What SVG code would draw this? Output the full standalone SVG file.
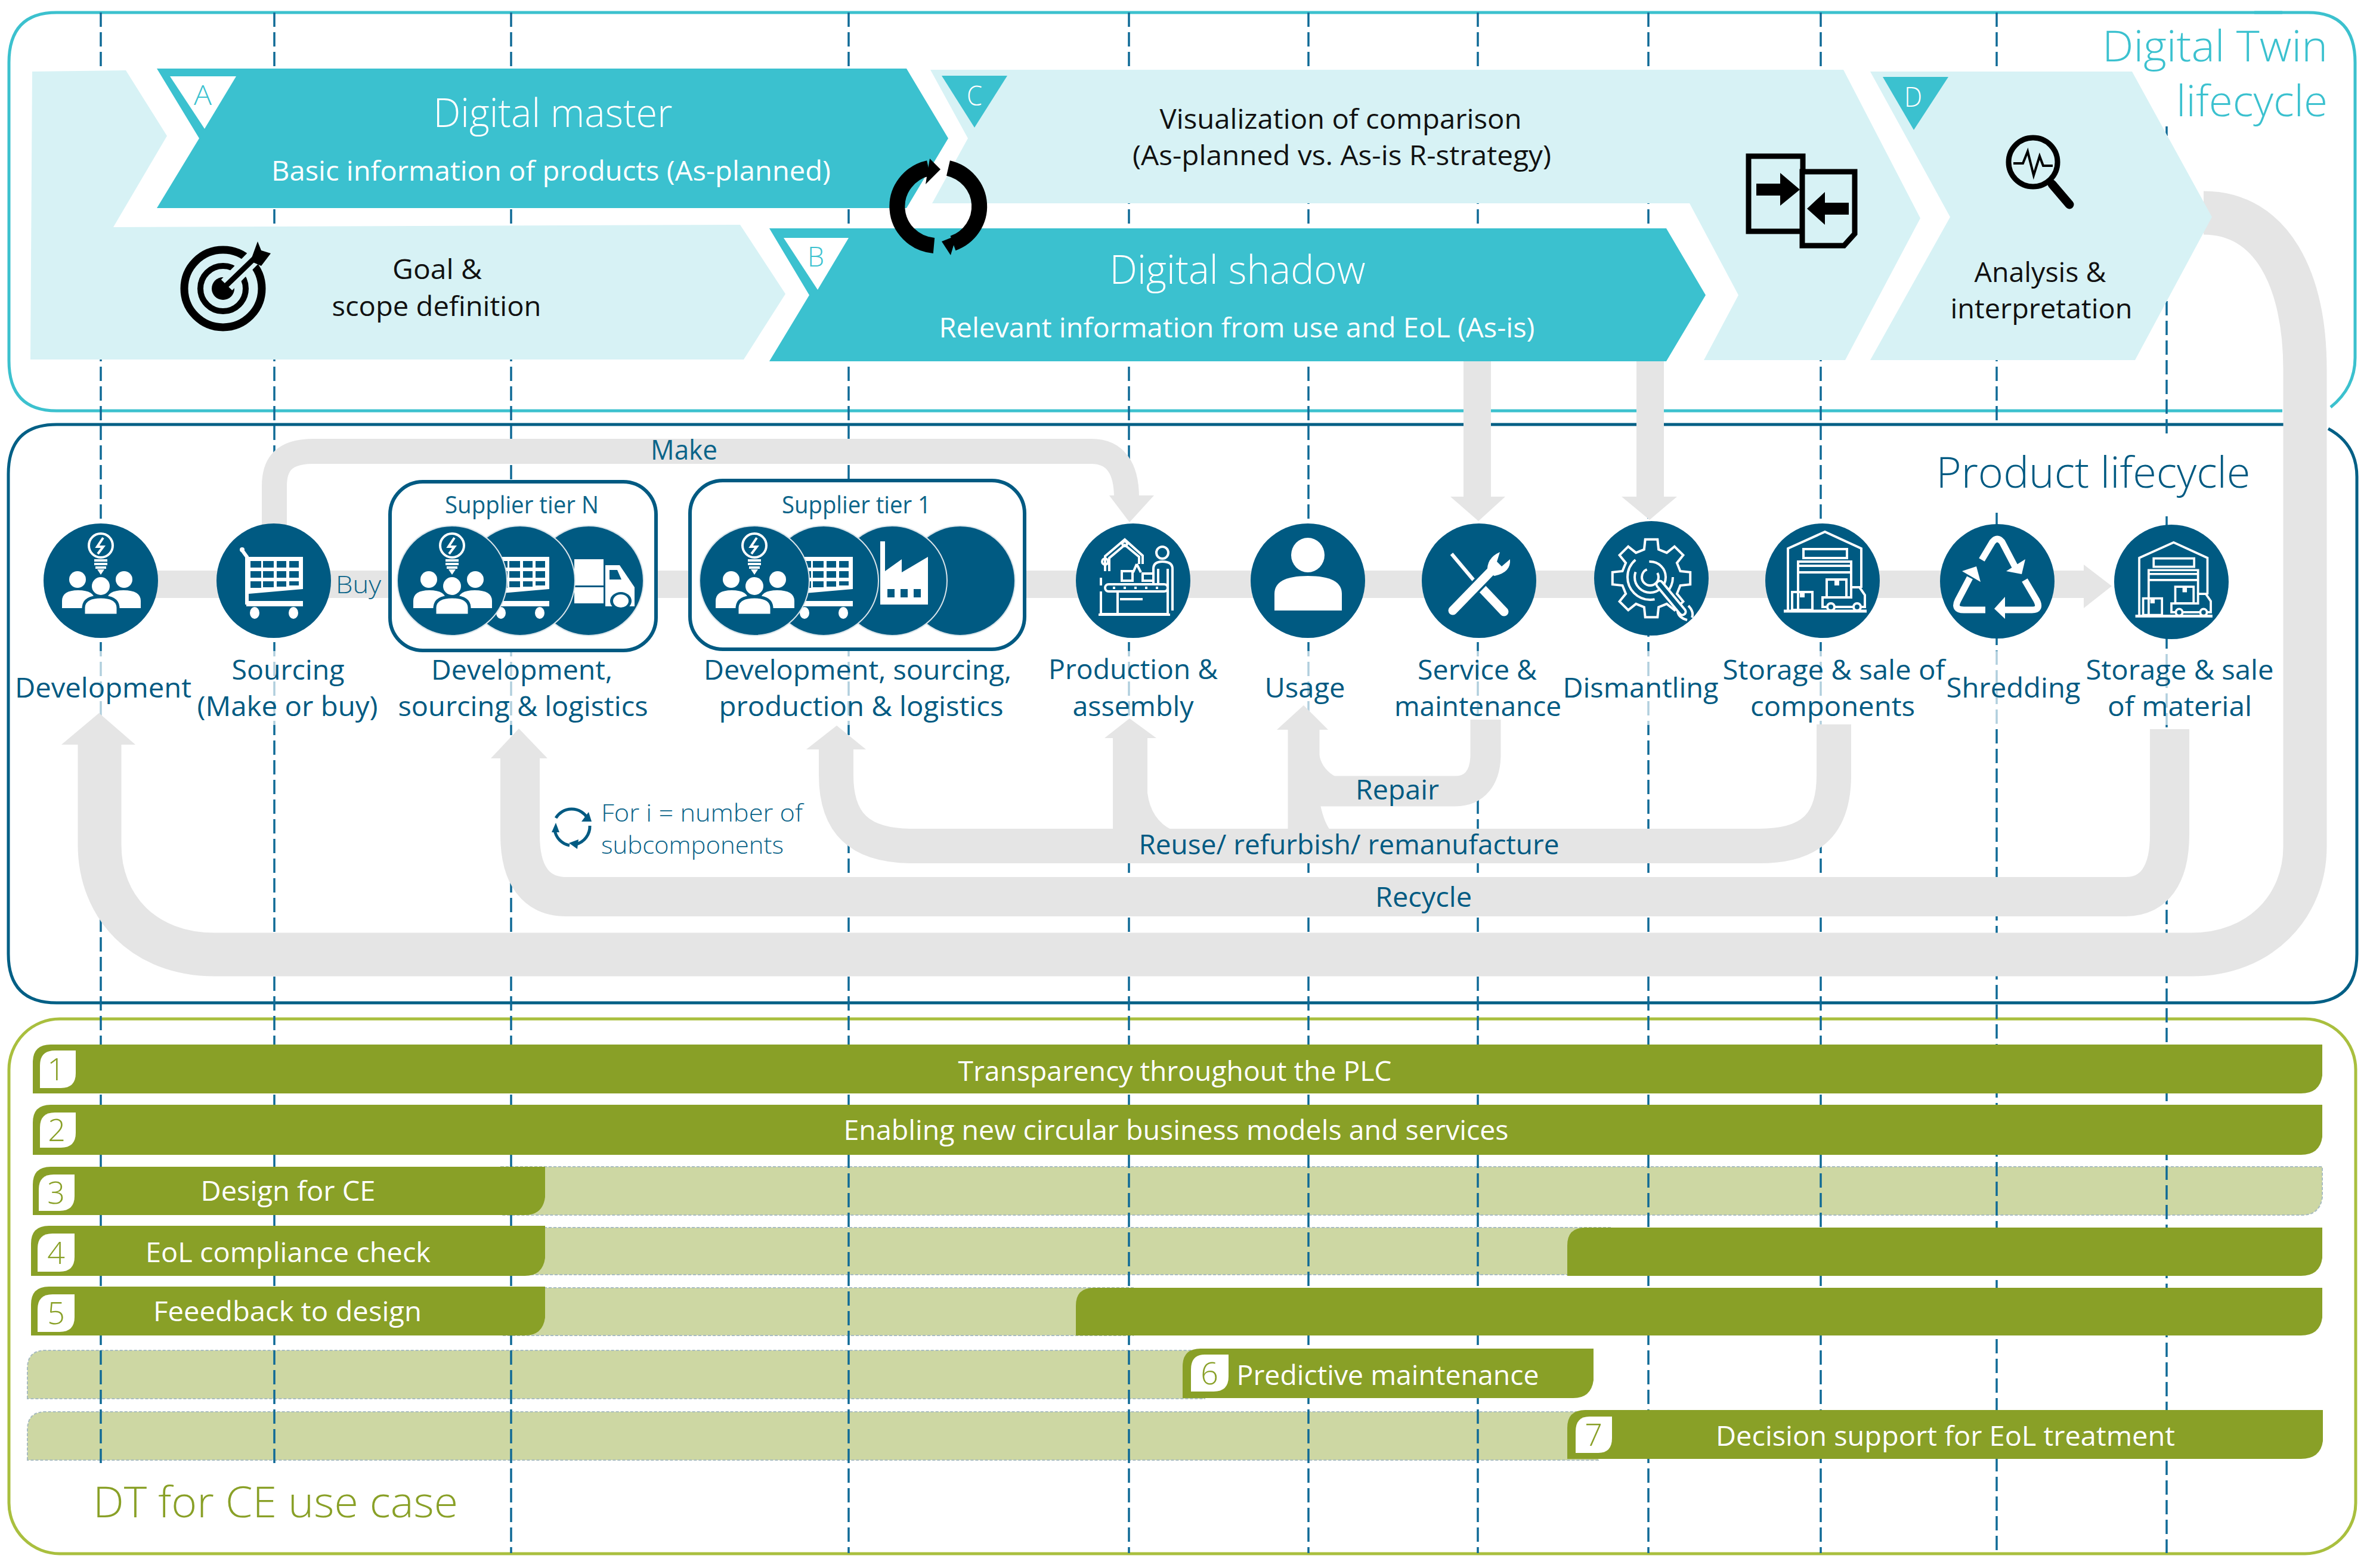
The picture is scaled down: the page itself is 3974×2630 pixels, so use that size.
<svg xmlns="http://www.w3.org/2000/svg" width="3974" height="2630" viewBox="0 0 3974 2630">
<style>
text{font-family:"Open Sans","Noto Sans","Liberation Sans",sans-serif;text-anchor:middle}
.frame{fill:none;stroke-width:5}
.dash{fill:none;stroke:#0f6a96;stroke-width:3.5;stroke-dasharray:24 9}
.band{fill:none;stroke:#e5e5e5}
.gf{fill:#e5e5e5}
.pale{fill:#d7f2f5}
.teal{fill:#3bc1cf}
.w{fill:#fff}
.k{fill:#000}
.ko{fill:none;stroke:#000}
.tw{fill:#fff}
.tk{fill:#111}
.tb{fill:#005a82}
.lab{fill:#005a82;font-size:46px}
.tl{fill:#0b6489;font-size:40px}
.hd{font-size:66px;font-weight:300}
.sub{font-size:46px}
.body{font-size:46px}
.letter{font-size:46px;font-weight:300}
.c{fill:#005a82}
.cs{fill:#005a82;stroke:#d9e4ea;stroke-width:2}
.box{fill:#fff;stroke:#005a82;stroke-width:6}
.io{fill:none;stroke:#fff;stroke-width:4}
.if{fill:#fff}
.id{fill:#005a82}
.lo{fill:none;stroke:#005a82;stroke-width:5}
.gd{fill:#89a027}
.gp{fill:#cdd7a3;stroke:#a8bcc0;stroke-width:2;stroke-dasharray:5 3}
.num{fill:#89a027;font-size:52px;font-weight:300}
.bt{fill:#fff;font-size:46px}
</style>
<defs>
<g id="i-dev">
<ellipse cx="0" cy="-59" rx="20" ry="20" class="io"/>
<path d="M4,-72L-6,-57H4L-5,-45" class="io"/>
<path d="M-11,-34H11M-11,-28H11M-9,-22H9" class="io"/>
<path d="M-6,-19H6L0,-10Z" class="if"/>
<circle cx="-39" cy="-2" r="14" class="if"/><circle cx="39" cy="-2" r="14" class="if"/>
<path d="M-65,46V34Q-65,16 -38,16Q-10,16 -10,34V46ZM10,46V34Q10,16 38,16Q67,16 67,34V46Z" class="if"/>
<circle cx="0" cy="9" r="19" class="id"/><circle cx="0" cy="9" r="15" class="if"/>
<path d="M-29,58V46Q-29,27 0,27Q29,27 29,46V58Z" class="if" stroke="#005a82" stroke-width="5"/>
</g>
<g id="i-cart">
<path d="M-53,-51L-45,-40V40" class="io" stroke-width="6" style="stroke-width:6"/>
<circle cx="-53" cy="-52" r="4" class="if"/>
<path d="M-42,-40H49V14L-42,22Z" class="if"/>
<path d="M-39,-33h18v11h-18zM-18,-33h18v11h-18zM5,-33h16v11h-16zM26,-33h16v11h-16zM-39,-16h18v11h-18zM-18,-16h18v11h-18zM5,-16h16v11h-16zM26,-16h16v11h-16zM-39,1h18v11h-18zM-18,1h18v10h-18zM5,1h16v9h-16zM26,1h16v7h-16z" class="id"/>
<path d="M-46,34H49V43H-46Z" class="if"/>
<ellipse cx="-32" cy="54" rx="8" ry="10" class="if"/><ellipse cx="33" cy="54" rx="8" ry="10" class="if"/>
</g>
<g id="i-truck">
<rect x="-24" y="-36" width="49" height="44" class="if"/><rect x="-24" y="11" width="49" height="27" class="if"/>
<path d="M28,-26H52L77,11V43H28Z" class="if"/>
<path d="M35,-18H48L55,-2H35Z" class="id"/>
<ellipse cx="54" cy="34" rx="18" ry="15" class="id"/><ellipse cx="54" cy="34" rx="13" ry="11" class="if"/>
</g>
<g id="i-factory">
<path d="M-20,-66H-12V-16L16,-36V-14L60,-40V40H-20Z" class="if"/>
<rect x="-8" y="14" width="12" height="14" class="id"/><rect x="14" y="14" width="12" height="14" class="id"/><rect x="36" y="14" width="12" height="14" class="id"/>
</g>
<g id="i-prod">
<path d="M-47,-16V-41L-14,-69L16,-42V-28M-40,-16V-38L-14,-60L10,-40V-28" class="io"/>
<circle cx="-47" cy="-32" r="5" class="io"/><circle cx="-14" cy="-62" r="4" class="io"/>
<path d="M6,-28L0,-14M6,-28L13,-14" class="io"/>
<rect x="-19" y="-16" width="18" height="16" class="io"/><rect x="16" y="-12" width="18" height="12" class="io"/>
<circle cx="49" cy="-47" r="10" class="io"/>
<path d="M34,8V-20Q34,-32 49,-32Q66,-32 66,-20V50M42,-20V8M58,-20V50" class="io"/>
<rect x="-47" y="6" width="105" height="12" rx="6" class="io"/>
<path d="M-34,12H44" stroke="#fff" stroke-width="4" stroke-dasharray="4 14" fill="none"/>
<path d="M-54,-5V8M-54,18V56H58V18M-26,18V56M-22,31H16" class="io"/>
<path d="M-58,57H62" class="io"/>
</g>
<g id="i-user">
<ellipse cx="0" cy="-43" rx="28" ry="29" class="if"/>
<path d="M-56,50V22Q-56,-8 0,-8Q57,-8 57,22V50Z" class="if"/>
</g>
<g id="i-tools">
<path d="M-46,-45L-4,5" stroke="#fff" stroke-width="6" fill="none"/>
<path d="M6,14L42,52" stroke="#fff" stroke-width="15" stroke-linecap="round" fill="none"/>
<path d="M-44,50L24,-20" stroke="#005a82" stroke-width="22" stroke-linecap="round" fill="none"/>
<path d="M-44,50L24,-20" stroke="#fff" stroke-width="15" stroke-linecap="round" fill="none"/>
<path d="M14,-14Q12,-38 35,-48L30,-32L38,-24L52,-36Q54,-14 26,-8Z" class="if"/>
</g>
<g id="i-gear">
<polygon class="io" points="48.5,-12.1 65.2,-10.3 65.2,10.3 48.5,12.1 42.9,25.8 53.4,38.8 38.8,53.4 25.8,42.9 12.1,48.5 10.3,65.2 -10.3,65.2 -12.1,48.5 -25.8,42.9 -38.8,53.4 -53.4,38.8 -42.9,25.8 -48.5,12.1 -65.2,10.3 -65.2,-10.3 -48.5,-12.1 -42.9,-25.8 -53.4,-38.8 -38.8,-53.4 -25.8,-42.9 -12.1,-48.5 -10.3,-65.2 10.3,-65.2 12.1,-48.5 25.8,-42.9 38.8,-53.4 53.4,-38.8 42.9,-25.8"/>
<circle cx="-2" cy="-2" r="38" class="io" stroke-dasharray="30 22 100 90"/>
<circle cx="-2" cy="-2" r="26" class="io" stroke-dasharray="90 30"/>
<circle cx="-2" cy="-2" r="14" class="io" stroke-dasharray="60 20"/>
<path d="M14,10L52,56" stroke="#fff" stroke-width="15" stroke-linecap="round"/>
<path d="M14,10L52,56" stroke="#005a82" stroke-width="7" stroke-linecap="round"/>
<path d="M44,56Q46,66 60,70M62,46Q72,56 68,66" class="io"/>
</g>
<g id="i-store">
<path d="M-58,50V-54L4,-82L65,-54V12" class="io"/>
<path d="M-32,-53H41V-38H-32Z" class="io"/>
<path d="M-41,50V-32H48V10M-41,-25H48M-41,-14H48" class="io"/>
<rect x="7" y="-2" width="33" height="30" class="io"/><path d="M20,-2V8H28V-2" class="if"/>
<rect x="-51" y="19" width="34" height="30" class="io"/><path d="M-38,19V28H-30V19" class="if"/>
<path d="M0,44V28H48V11H62L71,24V44H0Z" class="io"/>
<circle cx="14" cy="44" r="6" class="id" stroke="#fff" stroke-width="4"/><circle cx="58" cy="44" r="6" class="id" stroke="#fff" stroke-width="4"/>
<path d="M-65,51H74" class="io" style="stroke-width:5"/>
</g>
<g id="i-rec">
<path d="M-26,-36L-8,-66Q0,-76 8,-66L30,-24" class="io" style="stroke-width:11"/><path d="M47,-37L15,-17L41,-12Z" class="if"/>
<path d="M46,-2L66,32Q74,48 58,48H10" class="io" style="stroke-width:11"/><path d="M-5,46L13,26V63Z" class="if"/>
<path d="M-20,48H-56Q-74,48 -66,32L-46,-6" class="io" style="stroke-width:11"/><path d="M-35,-25L-59,-17L-28,1Z" class="if"/>
</g>
</defs>

<g id="frames">
<path class="frame" stroke="#3cc1ce" d="M3827,21H95Q15,21 15,105V605Q15,689 95,689H3827"/>
<path class="frame" stroke="#3cc1ce" d="M3780,21H3870Q3949,21 3949,105V600Q3949,650 3908,683"/>
<path class="frame" stroke="#005f85" d="M3829,712H95Q14,712 14,795V1600Q14,1682 95,1682H3870Q3952,1682 3952,1600V800Q3952,745 3904,719"/>
<rect class="frame" stroke="#a9bf3e" x="15" y="1709" width="3935" height="897" rx="85" ry="85"/>
</g>

<g id="use-case-pale">
<path class="gp" d="M840,1957H3894V2008Q3890,2038 3860,2038H840Z"/>
<path class="gp" d="M840,2059H2700V2138H840Z"/>
<path class="gp" d="M840,2160H1900V2240H840Z"/>
<path class="gp" d="M46,2346V2295Q46,2265 76,2265H2020V2346Z"/>
<path class="gp" d="M46,2449V2398Q46,2368 76,2368H2680V2449Z"/>
</g>

<g id="guides">
<path class="dash" d="M169,21V2456M460,21V2456M857,21V2605M1423,21V2605M1893,21V2605M2194,21V2605M2478,21V2605M2764,21V2605M3053,21V2605M3348,21V712M3348,860V2605M3633,505V730M3633,866V2605"/>
<path d="M3633,212V228" stroke="#0f6a96" stroke-width="3.5"/>
<rect x="20" y="1092" width="3810" height="124" fill="#fff" fill-opacity=".68"/>
</g>

<g id="connectors">
<path class="band" stroke-width="46" d="M169,980H3496"/>
<polygon class="gf" points="3494,947 3541,983 3494,1020"/>
<path class="band" stroke-width="42" d="M460,880V815C460,775 480,757 525,757H1830C1870,757 1889,785 1889,835"/>
<polygon class="gf" points="1860,831 1935,831 1894,876"/>
<path class="band" stroke-width="46" d="M2477,600V835M2767,600V835"/>
<polygon class="gf" points="2432,833 2524,833 2479,874"/>
<polygon class="gf" points="2719,833 2812,833 2766,872"/>
<path class="band" stroke-width="73" d="M3695,357C3810,357 3865,470 3865,620V1420C3865,1520 3790,1601 3675,1601H360C240,1601 167,1520 167,1417V1245"/>
<polygon class="gf" points="103,1249 227,1249 166,1196"/>
<path class="band" stroke-width="66" d="M3638,1223V1400C3638,1470 3610,1504 3565,1504H950C900,1504 872,1470 872,1400V1270"/>
<polygon class="gf" points="823,1272 918,1272 870,1222"/>
<path class="band" stroke-width="58" d="M3075,1215V1300C3075,1380 3040,1419 2950,1419H1530C1440,1419 1402,1380 1402,1300V1255"/>
<polygon class="gf" points="1352,1257 1452,1257 1403,1217"/>
<path class="band" stroke-width="58" d="M1895,1236V1395"/>
<path class="gf" d="M1924,1330Q1930,1375 1965,1392H1924Z"/>
<polygon class="gf" points="1852,1238 1939,1238 1894,1205"/>
<path class="band" stroke-width="53" d="M2186,1222V1395"/>
<path class="gf" d="M2212,1340Q2218,1375 2230,1392H2212Z"/>
<polygon class="gf" points="2141,1224 2227,1224 2186,1183"/>
<path class="band" stroke-width="51" d="M2491,1207V1265C2491,1305 2472,1327 2440,1327H2190"/>
<path class="gf" d="M2212,1265Q2216,1290 2240,1303H2212Z"/>
</g>

<g id="phase-goal">
<polygon class="pale" points="54,120 211,118 280,228 190,381 1241,377 1317,493 1247,603 51,603"/>
<text class="body tk" x="733" y="468" textLength="150" lengthAdjust="spacingAndGlyphs">Goal &amp;</text>
<text class="body tk" x="732" y="530" textLength="351" lengthAdjust="spacingAndGlyphs">scope definition</text>
<g id="icon-target">
<circle cx="374" cy="484" r="65" class="ko" stroke-width="13"/><circle cx="374" cy="484" r="38" class="ko" stroke-width="10"/><circle cx="374" cy="484" r="19" class="k"/>
<path d="M380,478L445,412" stroke="#d7f2f5" stroke-width="26" fill="none"/>
<path d="M374,484L432,428" class="ko" stroke-width="9"/>
<polygon class="k" points="420,438 432,405 438,420 454,425 438,446"/>
</g>
</g>
<g id="phase-visual">
<polygon class="pale" points="1560,117 3091,117 3220,366 3094,604 2857,604 2915,495 2833,341 1563,341 1623,232"/>
<polygon class="teal" points="1579,127 1689,127 1634,214"/>
<text class="letter w" x="1634" y="177" textLength="26" lengthAdjust="spacingAndGlyphs">C</text>
<text class="body tk" x="2248" y="216" textLength="607" lengthAdjust="spacingAndGlyphs">Visualization of comparison</text>
<text class="body tk" x="2250" y="277" textLength="702" lengthAdjust="spacingAndGlyphs">(As-planned vs. As-is R-strategy)</text>
<g id="icon-compare">
<path d="M3023,300V262H2932V388H3023V360" class="ko" stroke-width="9"/>
<path d="M2945,308H2985V290L3018,318L2985,345V328H2945Z" class="k"/>
<path d="M3022,288H3110V392L3092,412H3022Z" class="pale" stroke="#000" stroke-width="9"/>
<path d="M3100,340H3060V322L3030,350L3060,377V360H3100Z" class="k"/>
</g>
</g>
<g id="phase-master">
<polygon class="teal" points="263,115 1520,115 1590,232 1520,349 263,349 334,232"/>
<polygon class="w" points="285,128 396,128 343,216"/>
<text class="letter" fill="#3bc1cf" x="340" y="176" textLength="30" lengthAdjust="spacingAndGlyphs">A</text>
<text class="hd tw" x="927" y="213" textLength="401" lengthAdjust="spacingAndGlyphs">Digital master</text>
<text class="sub tw" x="924" y="303" textLength="938" lengthAdjust="spacingAndGlyphs">Basic information of products (As-planned)</text>
</g>
<g id="phase-shadow">
<polygon class="teal" points="1290,383 2794,383 2860,495 2794,606 1290,606 1357,495"/>
<polygon class="w" points="1314,399 1423,399 1371,486"/>
<text class="letter" fill="#3bc1cf" x="1368" y="447" textLength="28" lengthAdjust="spacingAndGlyphs">B</text>
<text class="hd tw" x="2075" y="476" textLength="429" lengthAdjust="spacingAndGlyphs">Digital shadow</text>
<text class="sub tw" x="2074" y="566" textLength="999" lengthAdjust="spacingAndGlyphs">Relevant information from use and EoL (As-is)</text>
</g>
<g id="phase-analysis">
<polygon class="pale" points="3136,120 3575,120 3709,364 3580,604 3136,604 3270,364"/>
<polygon class="teal" points="3157,129 3267,129 3209,218"/>
<text class="letter w" x="3208" y="179" textLength="30" lengthAdjust="spacingAndGlyphs">D</text>
<text class="body tk" x="3421" y="473" textLength="221" lengthAdjust="spacingAndGlyphs">Analysis &amp;</text>
<text class="body tk" x="3423" y="534" textLength="305" lengthAdjust="spacingAndGlyphs">interpretation</text>
<g id="icon-magnifier">
<circle cx="3409" cy="272" r="41" class="ko" stroke-width="9"/>
<path d="M3441,309L3470,343" class="ko" stroke-width="15" stroke-linecap="round"/>
<path d="M3376,274H3392L3400,254L3410,294L3420,262L3426,278H3442" class="ko" stroke-width="4"/>
</g>
</g>
<g id="icon-sync">
<path d="M1557,282A68,66 0 0 0 1566,412" class="ko" stroke-width="26"/>
<polygon class="k" points="1552,309 1577,284 1559,266"/>
<path d="M1590,282A68,66 0 0 1 1598,408" class="ko" stroke-width="26"/>
<polygon class="k" points="1579,405 1604,395 1594,428"/>
</g>
<text class="tl" x="3903" y="103" style="text-anchor:end;fill:#3bc1cf;font-size:72px;font-weight:300" textLength="378" lengthAdjust="spacingAndGlyphs">Digital Twin</text>
<text class="tl" x="3903" y="195" style="text-anchor:end;fill:#3bc1cf;font-size:72px;font-weight:300" textLength="254" lengthAdjust="spacingAndGlyphs">lifecycle</text>

<text class="tb" x="3510" y="818" font-size="72" font-weight="300" textLength="527" lengthAdjust="spacingAndGlyphs">Product lifecycle</text>

<g id="node-development"><circle class="c" cx="169" cy="974" r="96"/><use href="#i-dev" x="169" y="974"/>
<text class="lab" x="173" y="1170" textLength="296" lengthAdjust="spacingAndGlyphs">Development</text></g>
<g id="node-sourcing"><circle class="c" cx="459" cy="974" r="96"/><use href="#i-cart" x="459" y="974"/>
<text class="lab" x="483" y="1140" textLength="189" lengthAdjust="spacingAndGlyphs">Sourcing</text>
<text class="lab" x="482" y="1201" textLength="303" lengthAdjust="spacingAndGlyphs">(Make or buy)</text></g>
<text class="tl" x="601" y="995" font-weight="300" textLength="76" lengthAdjust="spacingAndGlyphs">Buy</text>
<text x="1147" y="771" font-size="46" fill="#0b6489" textLength="112" lengthAdjust="spacingAndGlyphs">Make</text>

<g id="node-supplier-n">
<rect class="box" x="654" y="808" width="446" height="283" rx="55" ry="55"/>
<text class="tl" x="875" y="861" textLength="258" lengthAdjust="spacingAndGlyphs">Supplier tier N</text>
<circle class="cs" cx="987" cy="974" r="92"/><use href="#i-truck" x="987" y="974"/>
<circle class="cs" cx="872" cy="974" r="92"/><use href="#i-cart" x="872" y="974"/>
<circle class="cs" cx="758" cy="974" r="92"/><use href="#i-dev" x="758" y="974"/>
<text class="lab" x="875" y="1140" textLength="304" lengthAdjust="spacingAndGlyphs">Development,</text>
<text class="lab" x="877" y="1201" textLength="419" lengthAdjust="spacingAndGlyphs">sourcing &amp; logistics</text>
</g>
<g id="node-supplier-1">
<rect class="box" x="1157" y="806" width="561" height="283" rx="55" ry="55"/>
<text class="tl" x="1436" y="861" textLength="250" lengthAdjust="spacingAndGlyphs">Supplier tier 1</text>
<circle class="cs" cx="1610" cy="974" r="92"/>
<circle class="cs" cx="1496" cy="974" r="92"/><use href="#i-factory" x="1496" y="974"/>
<circle class="cs" cx="1381" cy="974" r="92"/><use href="#i-cart" x="1381" y="974"/>
<circle class="cs" cx="1265" cy="974" r="92"/><use href="#i-dev" x="1265" y="974"/>
<text class="lab" x="1438" y="1140" textLength="516" lengthAdjust="spacingAndGlyphs">Development, sourcing,</text>
<text class="lab" x="1444" y="1201" textLength="477" lengthAdjust="spacingAndGlyphs">production &amp; logistics</text>
</g>
<g id="node-production"><circle class="c" cx="1900" cy="974" r="96"/><use href="#i-prod" x="1900" y="974"/>
<text class="lab" x="1900" y="1139" textLength="284" lengthAdjust="spacingAndGlyphs">Production &amp;</text>
<text class="lab" x="1900" y="1201" textLength="203" lengthAdjust="spacingAndGlyphs">assembly</text></g>
<g id="node-usage"><circle class="c" cx="2193" cy="974" r="96"/><use href="#i-user" x="2193" y="974"/>
<text class="lab" x="2188" y="1170" textLength="135" lengthAdjust="spacingAndGlyphs">Usage</text></g>
<g id="node-service"><circle class="c" cx="2480" cy="974" r="96"/><use href="#i-tools" x="2480" y="974"/>
<text class="lab" x="2477" y="1140" textLength="200" lengthAdjust="spacingAndGlyphs">Service &amp;</text>
<text class="lab" x="2478" y="1201" textLength="280" lengthAdjust="spacingAndGlyphs">maintenance</text></g>
<g id="node-dismantling"><circle class="c" cx="2769" cy="970" r="96"/><use href="#i-gear" x="2769" y="970"/>
<text class="lab" x="2751" y="1170" textLength="261" lengthAdjust="spacingAndGlyphs">Dismantling</text></g>
<g id="node-storage-components"><circle class="c" cx="3056" cy="974" r="96"/><use href="#i-store" x="3056" y="974"/>
<text class="lab" x="3075" y="1140" textLength="373" lengthAdjust="spacingAndGlyphs">Storage &amp; sale of</text>
<text class="lab" x="3073" y="1201" textLength="276" lengthAdjust="spacingAndGlyphs">components</text></g>
<g id="node-shredding"><circle class="c" cx="3349" cy="975" r="96"/><use href="#i-rec" x="3349" y="975"/>
<text class="lab" x="3376" y="1170" textLength="225" lengthAdjust="spacingAndGlyphs">Shredding</text></g>
<g id="node-storage-material"><circle class="c" cx="3641" cy="976" r="96"/><use href="#i-store" transform="translate(3641,986) scale(.93)"/>
<text class="lab" x="3655" y="1140" textLength="315" lengthAdjust="spacingAndGlyphs">Storage &amp; sale</text>
<text class="lab" x="3655" y="1201" textLength="242" lengthAdjust="spacingAndGlyphs">of material</text></g>

<g id="loop-note">
<path d="M932,1372A31,31 0 0 1 985,1372" class="lo"/>
<polygon class="c" points="975,1378 992,1378 987,1362"/>
<path d="M989,1385A31,31 0 0 1 966,1416" class="lo"/>
<polygon class="c" points="970,1408 968,1424 954,1414"/>
<path d="M930,1392A31,31 0 0 0 955,1418" class="lo"/>
<polygon class="c" points="925,1396 938,1396 932,1380"/>
<text class="tl" x="1008" y="1378" font-weight="300" style="text-anchor:start" textLength="338" lengthAdjust="spacingAndGlyphs">For i = number of</text>
<text class="tl" x="1008" y="1432" font-weight="300" style="text-anchor:start" textLength="306" lengthAdjust="spacingAndGlyphs">subcomponents</text>
</g>
<text class="tb" x="2343" y="1341" font-size="46" textLength="140" lengthAdjust="spacingAndGlyphs">Repair</text>
<text class="tb" x="2262" y="1433" font-size="46" textLength="705" lengthAdjust="spacingAndGlyphs">Reuse/ refurbish/ remanufacture</text>
<text class="tb" x="2387" y="1521" font-size="46" textLength="162" lengthAdjust="spacingAndGlyphs">Recycle</text>

<g id="use-case-1"><path class="gd" d="M55,1834V1782Q55,1752 85,1752H3894V1804Q3890,1834 3858,1834Z"/>
<path class="w" d="M67,1825V1787Q67,1762 92,1762H127V1800Q127,1825 102,1825Z"/><text class="num" x="94" y="1812">1</text>
<text class="bt" x="1970" y="1813" textLength="727" lengthAdjust="spacingAndGlyphs">Transparency throughout the PLC</text></g>
<g id="use-case-2"><path class="gd" d="M55,1937V1883Q55,1853 85,1853H3894V1907Q3890,1937 3858,1937Z"/>
<path class="w" d="M67,1925V1891Q67,1866 92,1866H127V1900Q127,1925 102,1925Z"/><text class="num" x="95" y="1914">2</text>
<text class="bt" x="1972" y="1912" textLength="1115" lengthAdjust="spacingAndGlyphs">Enabling new circular business models and services</text></g>
<g id="use-case-3"><path class="gd" d="M55,2038V1987Q55,1957 85,1957H914V2008Q910,2038 880,2038Z"/>
<path class="w" d="M65,2031V1995Q65,1970 90,1970H125V2006Q125,2031 100,2031Z"/><text class="num" x="94" y="2019">3</text>
<text class="bt" x="483" y="2014" textLength="293" lengthAdjust="spacingAndGlyphs">Design for CE</text></g>
<g id="use-case-4"><path class="gd" d="M52,2140V2086Q52,2056 82,2056H914V2110Q910,2140 880,2140Z"/>
<path class="gd" d="M2628,2140V2089Q2628,2059 2658,2059H3894V2110Q3890,2140 3858,2140Z"/>
<path class="w" d="M63,2133V2094Q63,2069 88,2069H125V2108Q125,2133 100,2133Z"/><text class="num" x="94" y="2120">4</text>
<text class="bt" x="483" y="2117" textLength="478" lengthAdjust="spacingAndGlyphs">EoL compliance check</text></g>
<g id="use-case-5"><path class="gd" d="M52,2240V2188Q52,2158 82,2158H914V2210Q910,2240 880,2240Z"/>
<path class="gd" d="M1804,2240V2190Q1804,2160 1834,2160H3894V2210Q3890,2240 3858,2240Z"/>
<path class="w" d="M63,2234V2196Q63,2171 88,2171H125V2209Q125,2234 100,2234Z"/><text class="num" x="94" y="2221">5</text>
<text class="bt" x="482" y="2216" textLength="450" lengthAdjust="spacingAndGlyphs">Feeedback to design</text></g>
<g id="use-case-6"><path class="gd" d="M1983,2345V2292Q1983,2262 2013,2262H2672V2315Q2668,2345 2638,2345Z"/>
<path class="w" d="M1997,2334V2297Q1997,2272 2020,2272H2060V2309Q2060,2334 2035,2334Z"/><text class="num" x="2028" y="2322">6</text>
<text class="bt" x="2327" y="2323" textLength="507" lengthAdjust="spacingAndGlyphs">Predictive maintenance</text></g>
<g id="use-case-7"><path class="gd" d="M2628,2447V2395Q2628,2365 2658,2365H3895V2417Q3891,2447 3858,2447Z"/>
<path class="w" d="M2642,2437V2401Q2642,2376 2665,2376H2703V2412Q2703,2437 2680,2437Z"/><text class="num" x="2672" y="2425">7</text>
<text class="bt" x="3262" y="2425" textLength="770" lengthAdjust="spacingAndGlyphs">Decision support for EoL treatment</text></g>
<text x="462" y="2545" fill="#89a027" font-size="72" font-weight="300" textLength="612" lengthAdjust="spacingAndGlyphs">DT for CE use case</text>
</svg>
